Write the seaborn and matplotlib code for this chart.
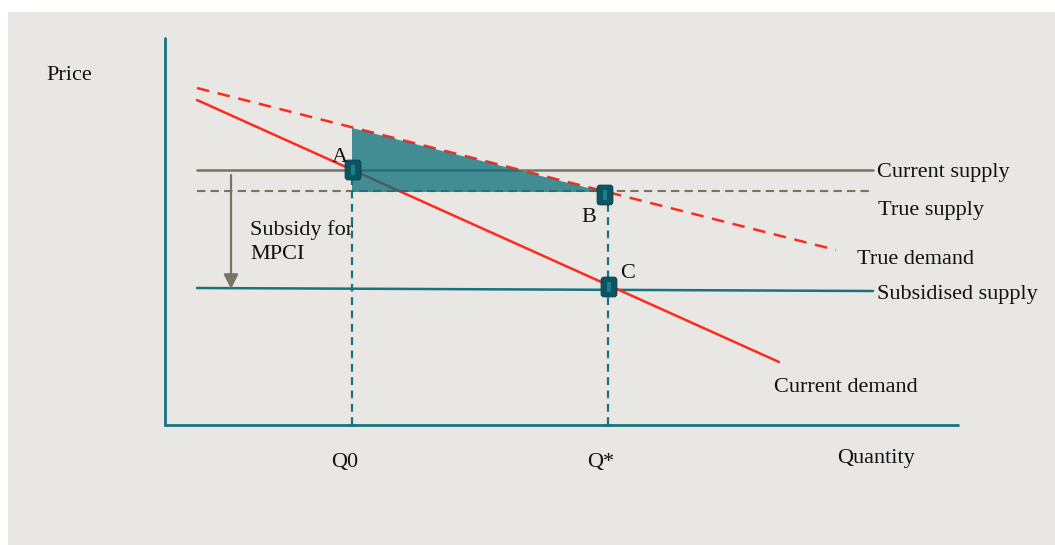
import matplotlib
matplotlib.use("Agg")
import matplotlib.pyplot as plt
import seaborn as sns
import pandas as pd
from matplotlib.patches import Rectangle, FancyBboxPatch, Polygon, FancyArrowPatch

# ---------------- data (quantity / price units) ----------------
axis_q_max = 793
axis_p_max = 387

current_supply_q = [32, 708]
current_supply_p = [255, 255]
true_supply_q = [32, 708]
true_supply_p = [234, 234]
subsidised_supply_q = [32, 708]
subsidised_supply_p = [137, 134]
current_demand_q = [32, 614]
current_demand_p = [325, 63]
true_demand_q = [32, 671]
true_demand_p = [337, 175]

q_levels = [187, 443]
q_labels = ["Q0", "Q*"]
point_names = ["A", "B", "C"]
point_q = [188, 440, 444]
point_p = [255, 230, 138]
welfare_q = [187, 187, 439]
welfare_p = [297, 233, 233]

# ---------------- style ----------------
sns.set_theme(style="white")
plt.rcParams["font.family"] = ["Liberation Serif", "DejaVu Serif"]

BG = "#e8e7e3"
TEAL = "#16737f"
DARK = "#0a5561"
RED = "#ff2a1f"
BROWN = "#7a7363"
FS = 16.0
TXT = "#111111"

fig = plt.figure(figsize=(10.55, 5.45), dpi=100)
fig.patch.set_facecolor("white")
ax = fig.add_axes([0, 0, 1, 1])
ax.set_xlim(-165, 890)
ax.set_ylim(-120, 425)
ax.axis("off")
ax.add_patch(Rectangle((-157, -120), 1047, 533, facecolor=BG, edgecolor="none", zorder=0))


def seg(xs, ys, **kw):
    sns.lineplot(x=xs, y=ys, ax=ax, estimator=None, sort=False, **kw)


# axes
seg([0, 0], [0, axis_p_max], color=TEAL, lw=2, zorder=3)
seg([0, axis_q_max], [0, 0], color=TEAL, lw=2, zorder=3)

# supply curves
seg(current_supply_q, current_supply_p, color=BROWN, lw=1.8, zorder=2)
seg(true_supply_q, true_supply_p, color=BROWN, lw=1.5, linestyle=(0, (4, 2.5)), zorder=2)
seg(subsidised_supply_q, subsidised_supply_p, color=TEAL, lw=1.8, zorder=2)

# demand curves
seg(current_demand_q, current_demand_p, color=RED, lw=1.8, zorder=2)
seg(true_demand_q, true_demand_p, color=RED, lw=1.8, linestyle=(0, (5, 3.5)), zorder=2)

# vertical quantity guides
for q, qp, lab in zip(q_levels, [point_p[0], point_p[1]], q_labels):
    seg([q, q], [0, qp], color=TEAL, lw=1.6, linestyle=(0, (3.5, 2.5)), zorder=2)
    ax.text(q - 7, -38, lab, fontsize=FS, ha="center", va="center", color=TXT)

# welfare triangle
ax.add_patch(Polygon(list(zip(welfare_q, welfare_p)), closed=True,
                     facecolor="#0b6e7a", alpha=0.75, edgecolor="none", zorder=4))

# subsidy arrow
ax.add_patch(FancyArrowPatch((66, 250), (66, 136), arrowstyle="-|>", mutation_scale=22,
                             color=BROWN, lw=1.6, zorder=3, shrinkA=0, shrinkB=0))

# markers
for q, p in zip(point_q, point_p):
    ax.add_patch(FancyBboxPatch((q - 5, p - 7), 10, 14, boxstyle="round,pad=2.8",
                                facecolor=DARK, edgecolor="#08434d", lw=0.8, zorder=6))
    ax.add_patch(Rectangle((q - 2.5, p - 5), 4, 10, facecolor="#1d7f8c",
                           edgecolor="none", zorder=7))

# point labels
label_pos = [(175, 267), (424, 208), (463, 151)]
for name, (lx, ly) in zip(point_names, label_pos):
    ax.text(lx, ly, name, fontsize=FS, ha="center", va="center", color=TXT, zorder=8)

# text labels
ax.text(-119, 350, "Price", fontsize=FS, ha="left", va="center", color=TXT)
ax.text(672, -33, "Quantity", fontsize=FS, ha="left", va="center", color=TXT)
ax.text(85, 183, "Subsidy for\nMPCI", fontsize=FS, ha="left", va="center",
        linespacing=1.4, color=TXT)
ax.text(712, 252, "Current supply", fontsize=FS, ha="left", va="center", color=TXT)
ax.text(713, 215, "True supply", fontsize=FS, ha="left", va="center", color=TXT)
ax.text(692, 165, "True demand", fontsize=FS, ha="left", va="center", color=TXT)
ax.text(712, 130, "Subsidised supply", fontsize=FS, ha="left", va="center", color=TXT)
ax.text(609, 37, "Current demand", fontsize=FS, ha="left", va="center", color=TXT)

fig.savefig("out.png", dpi=100, facecolor="white")
